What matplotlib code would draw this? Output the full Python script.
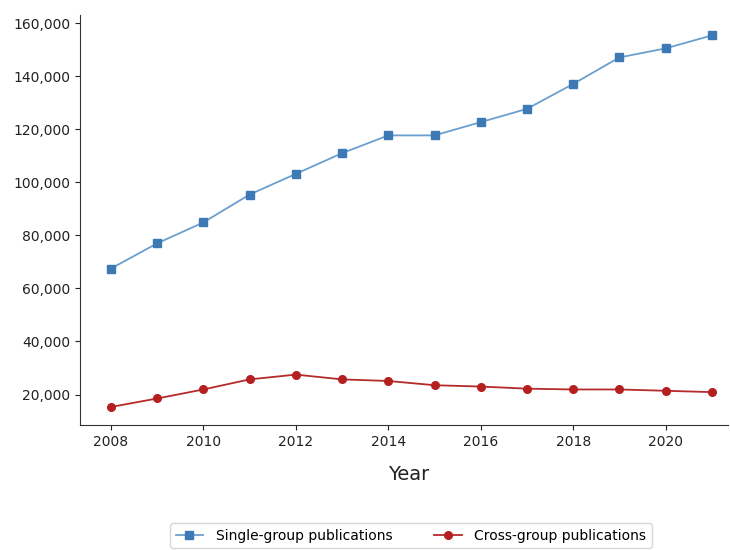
import matplotlib
matplotlib.use("Agg")
import matplotlib.pyplot as plt
from matplotlib.ticker import FuncFormatter

years = [2008, 2009, 2010, 2011, 2012, 2013, 2014, 2015, 2016, 2017, 2018, 2019, 2020, 2021]
single_group = [67500, 77000, 84900, 95400, 103200, 111000, 117700, 117700, 122700, 127700, 137100, 147100, 150500, 155400]
cross_group = [15300, 18500, 21900, 25700, 27500, 25700, 25100, 23500, 23000, 22200, 21900, 21900, 21400, 20900]
x_ticks = [2008, 2010, 2012, 2014, 2016, 2018, 2020]
y_ticks = [20000, 40000, 60000, 80000, 100000, 120000, 140000, 160000]

fig = plt.figure(figsize=(7.3, 5.5), dpi=100)
ax = fig.add_axes([80/730, 1-425/550, 648/730, 410/550])

ax.plot(years, single_group, color="#6a9fcf", lw=1.3, marker="s", markersize=5.5,
        markerfacecolor="#3d7ab5", markeredgecolor="#3d7ab5", label="Single-group publications")
ax.plot(years, cross_group, color="#b52a2a", lw=1.3, marker="o", markersize=5.5,
        markerfacecolor="#b51f1f", markeredgecolor="#b51f1f", label="Cross-group publications")

ax.set_xticks(x_ticks)
ax.set_yticks(y_ticks)
ax.yaxis.set_major_formatter(FuncFormatter(lambda v, p: f"{int(v):,}"))
ax.set_xlim(2007.33, 2021.35)
ax.set_ylim(8500, 163100)
ax.tick_params(labelsize=10, colors="#222222")
for s in ["top", "right"]:
    ax.spines[s].set_visible(False)
for s in ["left", "bottom"]:
    ax.spines[s].set_color("#333333")

fig.text(409/730, 1-475/550, "Year", fontsize=14, ha="center", va="center", color="#222222")
fig.legend(loc="upper center", bbox_to_anchor=(411/730, 1-523/550), borderaxespad=0, ncol=2, fontsize=10,
           frameon=True, fancybox=True, columnspacing=3.0, handlelength=2.0, handletextpad=0.9)

fig.savefig("out.png", dpi=100)
